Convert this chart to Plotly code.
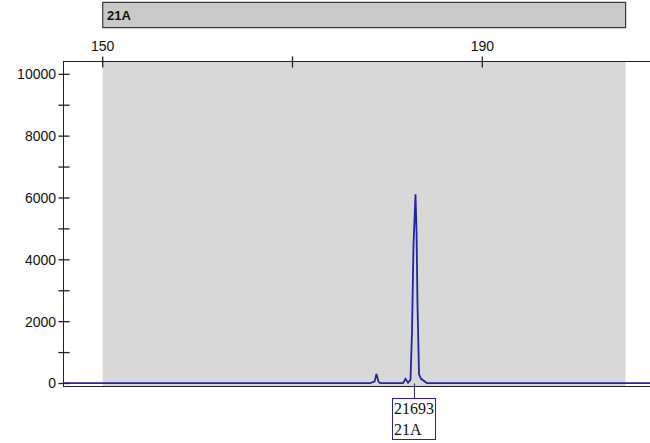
import plotly.graph_objects as go

# Electropherogram trace: fragment size (bp) vs signal (RFU)
size_bp = [145.9, 160.0, 170.0, 178.17, 178.64, 178.85, 179.06, 179.22, 181.64,
           181.91, 182.17, 182.43, 182.59, 182.75, 182.96, 183.07, 183.17,
           183.33, 183.54, 183.91, 184.17, 195.0, 207.7]
signal_rfu = [15, 15, 15, 15, 60, 310, 60, 15, 15,
              150, 25, 120, 1650, 4500, 6120, 4880, 2550,
              300, 150, 80, 15, 15, 15]

# Allele bin and called peak
bin_name = "21A"
bin_start, bin_end = 150.0, 205.1
peak_size = 182.85
peak_height_label = "21693"
peak_allele = "21A"

# Axis ticks
x_ticks = [150, 170, 190]
x_tick_text = ["150", "", "190"]
y_major = [0, 2000, 4000, 6000, 8000, 10000]
y_major_text = ["0", "2000", "4000", "6000", "8000", "10000"]
y_minor = [1000, 3000, 5000, 7000, 9000]
x_range = [145.92, 207.67]
y_range = [-81, 10398]

line_color = "#2424a4"
axis_color = "#222222"
font = dict(family="Liberation Sans, Arial, sans-serif", size=14, color="#111111")

fig = go.Figure()
fig.add_trace(go.Scatter(x=size_bp, y=signal_rfu, mode="lines",
                         line=dict(color=line_color, width=1.8),
                         hoverinfo="skip", showlegend=False))

# tick marks that straddle the axis lines
y_tick_all = y_major + y_minor
fig.add_trace(go.Scatter(x=[x_range[0]] * len(y_tick_all), y=y_tick_all, mode="markers",
                         marker=dict(symbol="line-ew", size=8,
                                     line=dict(color=axis_color, width=1.3)),
                         cliponaxis=False, hoverinfo="skip", showlegend=False))
fig.add_trace(go.Scatter(x=x_ticks, y=[y_range[1]] * len(x_ticks), mode="markers",
                         marker=dict(symbol="line-ns", size=8,
                                     line=dict(color=axis_color, width=1.3)),
                         cliponaxis=False, hoverinfo="skip", showlegend=False))

# grey bin band
fig.add_shape(type="rect", xref="x", yref="paper", x0=bin_start, x1=bin_end,
              y0=0, y1=1, fillcolor="#d8d8d8", line=dict(width=0), layer="below")
# bin label bar above the axis
fig.add_shape(type="rect", xref="x", yref="paper", x0=bin_start, x1=bin_end,
              y0=1.106, y1=1.184, fillcolor="#c9c9c9",
              line=dict(color="#3a3a3a", width=1.2))
fig.add_annotation(x=bin_start, y=1.145, xref="x", yref="paper", text="<b>%s</b>" % bin_name,
                   showarrow=False, xanchor="left", yanchor="middle", xshift=2,
                   font=dict(family="Liberation Sans, Arial, sans-serif", size=13, color="#111111"))

# called peak label
fig.add_annotation(x=peak_size, y=0, xref="x", yref="y",
                   text="%s<br>%s" % (peak_height_label, peak_allele),
                   showarrow=True, arrowhead=0, arrowwidth=1, arrowcolor="#2a2a60",
                   ax=0, ay=35, standoff=0, align="left",
                   bgcolor="white", bordercolor=line_color, borderwidth=1, borderpad=1,
                   font=dict(family="Liberation Serif, Times New Roman, serif", size=16, color="#111111"))

fig.update_layout(
    width=650, height=443,
    margin=dict(l=64, r=0, t=62, b=57),
    paper_bgcolor="white", plot_bgcolor="white",
    font=font,
    xaxis=dict(side="top", range=x_range, tickvals=x_ticks, ticktext=x_tick_text,
               ticks="outside", ticklen=4, tickcolor="rgba(0,0,0,0)",
               showline=True, linecolor=axis_color, linewidth=1.3, mirror=True,
               showgrid=False, zeroline=False, fixedrange=True),
    yaxis=dict(range=y_range, tickvals=y_major, ticktext=y_major_text,
               ticks="outside", ticklen=4, tickcolor="rgba(0,0,0,0)",
               showline=True, linecolor=axis_color, linewidth=1.3,
               showgrid=False, zeroline=False, fixedrange=True),
)

fig.write_html("out.html")
